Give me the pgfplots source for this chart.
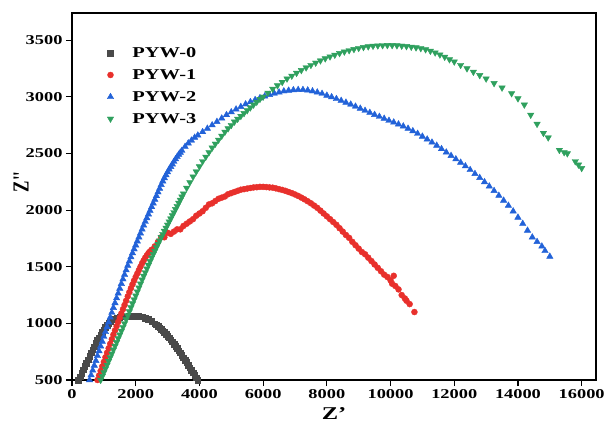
\documentclass[border=0pt]{standalone}
\usepackage{fontspec}
\setmainfont{Liberation Serif}[FakeStretch=1.36]
\newfontfamily\plainserif{Liberation Serif}
\usepackage{graphicx}
\usepackage{pgfplots}
\pgfplotsset{compat=1.18}
\definecolor{c0}{HTML}{4A4A4A}
\definecolor{c1}{HTML}{E8302C}
\definecolor{c2}{HTML}{2262D8}
\definecolor{c3}{HTML}{2FA05E}
\pgfplotsset{lg/.style={legend image code/.code={\path[draw=none,fill=none] (0pt,-4pt) rectangle (27pt,4pt); \draw[##1] plot coordinates {(7pt,0pt)};}}}
\begin{document}
\begin{tikzpicture}
\begin{axis}[
 scale only axis, width=524pt, height=367pt,
 xmin=0, xmax=16450, ymin=500, ymax=3740,
 xtick={0,2000,...,16000}, ytick={500,1000,...,3500},
 tick align=outside, major tick length=6pt,
 xtick pos=bottom, ytick pos=left,
 axis line style={line width=1.2pt},
 every tick/.style={line width=1.1pt, black},
 tick label style={font=\fontsize{13.5}{14}\selectfont\bfseries},
 /pgf/number format/assume math mode=true,
 /pgf/number format/1000 sep={},
 scaled ticks=false,
 xlabel={\fontsize{18}{18}\selectfont\bfseries Z'},
 xlabel style={at={(axis description cs:0.5,-0.065)}, anchor=north},
 ylabel={\scalebox{1}[1.35]{\fontsize{17}{17}\selectfont\plainserif\bfseries Z''}},
 ylabel style={at={(axis description cs:-0.097,0.54)}, anchor=center},
 legend style={draw=none, fill=none, at={(axis description cs:0.054,0.918)}, anchor=north west,
   font=\fontsize{15}{16}\selectfont\bfseries, row sep=6.5pt},
 legend cell align=left,
]
\addplot[only marks, mark=square*, mark size=2.8pt, color=c0, lg] coordinates {
(200,500)(250,530)(300,560)(350,590)(400,620)(450,650)(500,680)(550,710)(600,740)(650,768)(700,795)
(750,823)(800,850)(850,875)(900,900)(950,923)(1000,945)(1050,965)(1100,985)(1150,1000)(1200,1015)
(1300,1035)(1400,1048)(1500,1055)(1600,1058)(1700,1060)(1800,1062)(1900,1065)(2000,1066)
(2100,1064)(2200,1058)(2300,1048)(2400,1035)(2500,1018)(2600,998)(2650,987)(2700,975)(2750,963)(2800,950)
(2850,935)(2900,920)(2950,904)(3000,888)(3050,872)(3100,855)(3150,837)(3200,818)(3250,799)(3300,780)
(3350,760)(3400,740)(3450,719)(3500,698)(3550,677)(3600,655)(3650,633)(3700,610)(3750,588)(3800,565)
(3850,543)(3900,520)(3950,500)
};
\addlegendentry{PYW-0}
\addplot[only marks, mark=*, mark size=3pt, color=c1, lg] coordinates {
(800,500)(850,540)(900,580)(950,620)(1000,660)(1050,700)(1100,740)(1150,780)(1200,820)(1250,860)
(1300,900)(1350,938)(1400,975)(1450,1012)(1500,1050)(1550,1088)(1600,1125)(1650,1162)(1700,1200)
(1750,1238)(1800,1275)(1850,1310)(1900,1345)(1950,1378)(2000,1410)(2050,1440)(2100,1470)(2150,1500)
(2200,1530)(2250,1555)(2300,1580)(2350,1600)(2400,1620)(2450,1635)(2500,1650)(2600,1680)
(2700,1720)(2800,1760)(2900,1760)(3000,1800)(3100,1790)(3200,1810)(3300,1830)(3400,1830)(3500,1860)
(3600,1880)(3700,1900)(3800,1920)(3900,1950)(4000,1970)(4100,1990)(4200,2020)(4300,2050)(4400,2060)
(4500,2080)(4600,2100)(4700,2110)(4800,2120)(4900,2140)(5000,2150)(5100,2160)(5200,2170)(5300,2180)
(5400,2185)(5500,2190)(5600,2195)(5700,2200)(5800,2202)(5900,2205)(6000,2205)(6100,2203)(6200,2200)
(6300,2198)(6400,2192)(6500,2185)(6600,2178)(6700,2170)(6800,2160)(6900,2150)(7000,2138)(7100,2125)
(7200,2110)(7300,2095)(7400,2078)(7500,2060)(7600,2040)(7700,2020)(7800,1995)(7900,1970)(8000,1945)
(8100,1920)(8200,1895)(8300,1870)(8400,1840)(8500,1810)(8600,1780)(8700,1755)(8800,1720)(8900,1690)
(9000,1660)(9100,1630)(9200,1610)(9300,1580)(9400,1550)(9500,1520)(9600,1490)(9700,1460)(9800,1430)
(9900,1410)(10000,1380)(10050,1350)(10100,1420)(10150,1330)(10250,1300)(10350,1250)(10450,1220)
(10500,1200)(10600,1170)(10750,1100)
};
\addlegendentry{PYW-1}
\addplot[only marks, mark=triangle*, mark size=3.7pt, color=c2, lg] coordinates {
(550,500)(600,543)(650,585)(700,628)(750,670)(800,713)(850,755)(900,798)(950,840)(1000,883)(1050,925)
(1100,968)(1150,1010)(1200,1053)(1250,1095)(1300,1138)(1350,1180)(1400,1223)(1450,1265)(1500,1308)
(1550,1350)(1600,1390)(1650,1430)(1700,1470)(1750,1510)(1800,1548)(1850,1585)(1900,1620)(1950,1655)
(2000,1690)(2050,1725)(2100,1760)(2150,1795)(2200,1830)(2250,1865)(2300,1898)(2350,1930)(2400,1963)
(2450,1995)(2500,2028)(2550,2060)(2600,2093)(2650,2125)(2700,2158)(2750,2190)(2800,2223)(2850,2255)
(2900,2283)(2950,2310)(3000,2335)(3050,2360)(3100,2383)(3150,2405)(3200,2428)(3250,2450)(3300,2470)
(3350,2490)(3400,2508)(3450,2525)(3550,2560)(3650,2590)(3750,2615)(3850,2640)(3950,2660)(4100,2690)
(4250,2720)(4400,2750)(4550,2780)(4700,2810)(4850,2840)(5000,2865)(5150,2890)(5300,2912)(5450,2935)
(5600,2955)(5750,2973)(5900,2990)(6050,3005)(6200,3018)(6350,3030)(6500,3040)(6650,3050)(6800,3056)
(6950,3060)(7100,3062)(7250,3062)(7400,3058)(7550,3050)(7700,3040)(7850,3028)(8000,3012)(8150,2998)
(8300,2982)(8450,2966)(8600,2950)(8750,2933)(8900,2915)(9050,2897)(9200,2878)(9350,2860)(9500,2842)
(9650,2825)(9800,2808)(9950,2790)(10100,2775)(10250,2758)(10400,2740)(10550,2720)(10700,2698)
(10850,2675)(11000,2650)(11150,2625)(11300,2598)(11450,2570)(11600,2540)(11750,2510)(11900,2480)
(12050,2450)(12200,2420)(12350,2388)(12500,2355)(12650,2320)(12800,2285)(12950,2248)(13100,2210)
(13250,2170)(13400,2128)(13550,2085)(13700,2040)(13850,1990)(14000,1935)(14150,1880)(14300,1820)
(14450,1760)(14600,1720)(14750,1680)(14850,1640)(15000,1590)
};
\addlegendentry{PYW-2}
\addplot[only marks, mark=triangle*, mark size=3.7pt, mark options={rotate=180}, color=c3, lg] coordinates {
(900,500)(950,533)(1000,567)(1050,600)(1100,633)(1150,667)(1200,700)(1250,733)(1300,767)(1350,800)
(1400,833)(1450,867)(1500,900)(1550,933)(1600,967)(1650,1000)(1700,1035)(1750,1070)(1800,1105)
(1850,1140)(1900,1175)(1950,1210)(2000,1245)(2050,1280)(2100,1315)(2150,1350)(2200,1385)(2250,1418)
(2300,1450)(2350,1483)(2400,1515)(2450,1548)(2500,1580)(2550,1610)(2600,1640)(2650,1670)(2700,1700)
(2750,1730)(2800,1760)(2850,1788)(2900,1815)(2950,1843)(3000,1870)(3050,1898)(3100,1925)(3150,1953)
(3200,1980)(3250,2008)(3300,2035)(3350,2063)(3400,2090)(3450,2118)(3500,2145)(3600,2195)
(3700,2245)(3800,2295)(3900,2340)(4000,2385)(4100,2430)(4200,2470)(4300,2510)(4400,2550)(4500,2585)
(4600,2620)(4700,2655)(4800,2690)(4900,2720)(5000,2750)(5100,2780)(5200,2805)(5300,2830)(5400,2855)
(5500,2880)(5600,2905)(5700,2930)(5800,2955)(5900,2980)(6000,3000)(6150,3035)(6300,3070)(6450,3100)
(6600,3130)(6750,3160)(6900,3185)(7050,3210)(7200,3235)(7350,3258)(7500,3280)(7650,3300)(7800,3320)
(7950,3338)(8100,3355)(8250,3370)(8400,3385)(8550,3398)(8700,3410)(8850,3420)(9000,3430)(9150,3438)
(9300,3444)(9450,3449)(9600,3452)(9750,3454)(9900,3455)(10050,3455)(10200,3453)(10350,3450)
(10500,3446)(10650,3441)(10800,3435)(10950,3428)(11100,3418)(11250,3405)(11400,3390)(11550,3372)
(11700,3352)(11850,3330)(12000,3310)(12200,3280)(12400,3250)(12600,3220)(12800,3190)(13000,3160)
(13250,3120)(13500,3080)(13800,3030)(14000,2985)(14200,2930)(14400,2840)(14600,2760)(14800,2680)
(14950,2640)(15300,2530)(15450,2510)(15550,2500)(15800,2430)(15900,2400)(16000,2370)
};
\addlegendentry{PYW-3}
\end{axis}
\pgfresetboundingbox
\path[use as bounding box] ([shift={(-72pt,-43pt)}]current axis.south west) rectangle ([shift={(13pt,13pt)}]current axis.north east);
\end{tikzpicture}
\end{document}
